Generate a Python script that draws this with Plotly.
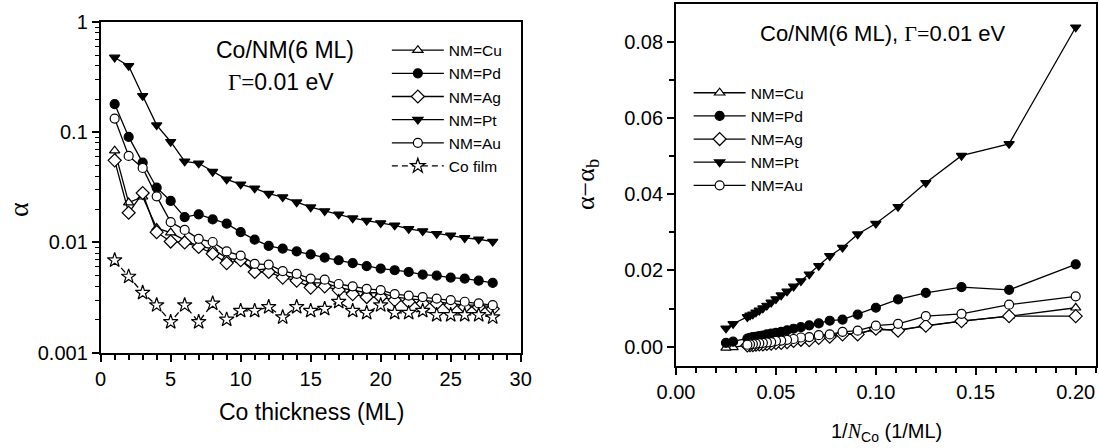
import plotly.graph_objects as go

# ---------------- data: left panel (alpha vs Co thickness) ----------------
thick = list(range(1, 29))
cu_l = [0.068, 0.023, 0.026, 0.0135, 0.0123, 0.0105, 0.0092, 0.0088, 0.0072, 0.0069,
        0.0056, 0.0058, 0.0050, 0.0048, 0.0043, 0.0043, 0.0039, 0.0037, 0.0035, 0.0035,
        0.0032, 0.0031, 0.0030, 0.0029, 0.0028, 0.0027, 0.0027, 0.0026]
pd_l = [0.180, 0.0907, 0.053, 0.0314, 0.0238, 0.0170, 0.0180, 0.0162, 0.0148, 0.0124,
        0.0106, 0.0093, 0.0088, 0.0083, 0.0078, 0.0073, 0.0069, 0.0065, 0.0061, 0.0058,
        0.0056, 0.0054, 0.0051, 0.0050, 0.0048, 0.0047, 0.0045, 0.0043]
ag_l = [0.0556, 0.0186, 0.0281, 0.0124, 0.0102, 0.0100, 0.0091, 0.0079, 0.0065, 0.0069,
        0.0054, 0.0054, 0.0048, 0.0045, 0.0039, 0.0040, 0.0037, 0.0034, 0.0032, 0.0032,
        0.0030, 0.0029, 0.0028, 0.0028, 0.0027, 0.0026, 0.0026, 0.0025]
pt_l = [0.477, 0.400, 0.214, 0.116, 0.082, 0.0545, 0.0523, 0.0439, 0.0374, 0.0337,
        0.0310, 0.0277, 0.0258, 0.0232, 0.0209, 0.0193, 0.0180, 0.0166, 0.0158, 0.0150,
        0.0143, 0.0133, 0.0127, 0.0120, 0.0116, 0.0110, 0.0107, 0.0102]
au_l = [0.133, 0.061, 0.0474, 0.0262, 0.0153, 0.0130, 0.0108, 0.0101, 0.0083, 0.0076,
        0.0064, 0.0063, 0.0055, 0.0052, 0.0047, 0.0046, 0.0042, 0.0040, 0.0038, 0.0037,
        0.0034, 0.0033, 0.0032, 0.0031, 0.0030, 0.0029, 0.0028, 0.0027]
co_l = [0.0069, 0.0049, 0.0035, 0.0027, 0.0019, 0.0027, 0.0019, 0.0028, 0.0020, 0.0024,
        0.0024, 0.0026, 0.0021, 0.0026, 0.0024, 0.0025, 0.0029, 0.0024, 0.0023, 0.0027,
        0.0023, 0.0023, 0.0024, 0.0022, 0.0022, 0.0022, 0.0022, 0.0021]

# ---------------- data: right panel (alpha - alpha_b vs 1/N_Co) ----------------
n_full = [5, 6, 7, 8, 9, 10, 11, 12, 13, 14, 15, 16, 17, 18, 19, 20,
          21, 22, 23, 24, 25, 26, 27, 28, 35, 40]
n_short = n_full[:24]
cu_r = [0.0102, 0.0080, 0.0067, 0.0055, 0.0044, 0.0045, 0.0035, 0.0034, 0.0028, 0.0026,
        0.0021, 0.0021, 0.0017, 0.0015, 0.0013, 0.0013, 0.0010, 0.0009, 0.0008, 0.0007,
        0.0006, 0.0005, 0.0005, 0.0004, -0.0002, -0.0003]
pd_r = [0.0216, 0.0149, 0.0156, 0.0141, 0.0124, 0.0102, 0.0084, 0.0071, 0.0068, 0.0061,
        0.0056, 0.0051, 0.0047, 0.0043, 0.0039, 0.0036, 0.0034, 0.0032, 0.0029, 0.0028,
        0.0026, 0.0025, 0.0023, 0.0021, 0.0013, 0.0010]
ag_r = [0.0080, 0.0080, 0.0067, 0.0055, 0.0042, 0.0047, 0.0032, 0.0032, 0.0026, 0.0023,
        0.0017, 0.0018, 0.0015, 0.0012, 0.0010, 0.0010, 0.0008, 0.0007, 0.0006, 0.0006,
        0.0005, 0.0004, 0.0004, 0.0003]
pt_r = [0.0838, 0.0532, 0.0501, 0.0430, 0.0367, 0.0323, 0.0295, 0.0260, 0.0238, 0.0212,
        0.0190, 0.0172, 0.0158, 0.0145, 0.0135, 0.0125, 0.0116, 0.0108, 0.0101, 0.0095,
        0.0090, 0.0085, 0.0082, 0.0078, 0.0060, 0.0048]
au_r = [0.0132, 0.0110, 0.0086, 0.0080, 0.0060, 0.0055, 0.0042, 0.0039, 0.0032, 0.0030,
        0.0025, 0.0024, 0.0020, 0.0018, 0.0016, 0.0015, 0.0012, 0.0011, 0.0010, 0.0009,
        0.0008, 0.0007, 0.0006, 0.0005]

log_tickvals = [0.001, 0.01, 0.1, 1]
log_ticktext = ["0.001", "0.01", "0.1", "1"]

FONT = "Liberation Sans, Arial, sans-serif"
SERIF = "Liberation Serif"

styles = {
    "NM=Cu": dict(symbol="triangle-up", color="white", size=9),
    "NM=Pd": dict(symbol="circle", color="black", size=9),
    "NM=Ag": dict(symbol="diamond", color="white", size=10),
    "NM=Pt": dict(symbol="triangle-down", color="black", size=9),
    "NM=Au": dict(symbol="circle", color="white", size=9),
    "Co film": dict(symbol="star", color="white", size=11),
}

fig = go.Figure()

left_series = [("NM=Cu", cu_l), ("NM=Pd", pd_l), ("NM=Ag", ag_l),
               ("NM=Pt", pt_l), ("NM=Au", au_l), ("Co film", co_l)]
for name, vals in left_series:
    st = styles[name]
    fig.add_trace(go.Scatter(
        x=thick, y=vals, name=name, mode="lines+markers",
        line=dict(color="black", width=1.3, dash="6px,4px" if name == "Co film" else "solid"),
        marker=dict(symbol=st["symbol"], size=st["size"], color=st["color"],
                    line=dict(color="black", width=1.2)),
        xaxis="x", yaxis="y", legend="legend"))

right_series = [("NM=Cu", n_full, cu_r), ("NM=Pd", n_full, pd_r), ("NM=Ag", n_short, ag_r),
                ("NM=Pt", n_full, pt_r), ("NM=Au", n_short, au_r)]
for name, ns, vals in right_series:
    st = styles[name]
    fig.add_trace(go.Scatter(
        x=[1.0 / n for n in ns], y=vals, name=name, mode="lines+markers",
        line=dict(color="black", width=1.3),
        marker=dict(symbol=st["symbol"], size=st["size"], color=st["color"],
                    line=dict(color="black", width=1.2)),
        xaxis="x2", yaxis="y2", legend="legend2"))

axis_common = dict(showgrid=False, zeroline=False, showline=True, linecolor="black",
                   linewidth=1.8, mirror=True, ticks="outside", tickcolor="black",
                   tickwidth=1.5, ticklen=7, automargin=False,
                   tickfont=dict(family=FONT, size=20, color="black"))

fig.update_layout(
    width=1099, height=448, autosize=False,
    margin=dict(l=0, r=0, t=0, b=0, autoexpand=False),
    paper_bgcolor="white", plot_bgcolor="white",
    font=dict(family=FONT, color="black"),
    xaxis=dict(domain=[0.0916, 0.4738], range=[0, 30], dtick=5, tick0=0,
               minor=dict(dtick=1, ticks="outside", ticklen=5, tickcolor="black", tickwidth=1.5),
               anchor="y", **axis_common),
    yaxis=dict(domain=[0.2127, 0.9509], type="log", range=[-3, 0],
               tickvals=log_tickvals, ticktext=log_ticktext,
               minor=dict(dtick="D1", ticks="outside", ticklen=4, tickcolor="black", tickwidth=1.2),
               anchor="x", **axis_common),
    xaxis2=dict(domain=[0.6151, 0.997], range=[0, 0.21], dtick=0.05, tick0=0,
                tickformat=".2f",
                minor=dict(dtick=0.01, ticks="outside", ticklen=5, tickcolor="black", tickwidth=1.5),
                anchor="y2", **axis_common),
    yaxis2=dict(domain=[0.1837, 0.9911], range=[-0.005, 0.0899], dtick=0.02, tick0=0,
                tickformat=".2f",
                minor=dict(dtick=0.01, ticks="outside", ticklen=5, tickcolor="black", tickwidth=1.5),
                anchor="x2", **axis_common),
    legend=dict(x=0.352, y=0.925, xanchor="left", yanchor="top",
                bgcolor="rgba(0,0,0,0)", borderwidth=0,
                font=dict(family=FONT, size=15.5, color="black"),
                itemwidth=52, tracegroupgap=0),
    legend2=dict(x=0.6266, y=0.830, xanchor="left", yanchor="top",
                 bgcolor="rgba(0,0,0,0)", borderwidth=0,
                 font=dict(family=FONT, size=15.5, color="black"),
                 itemwidth=52, tracegroupgap=0),
)

ann_font = dict(family=FONT, size=23, color="black")
fig.add_annotation(x=285 / 1099, y=1 - 50 / 448, xref="paper", yref="paper",
                   text="Co/NM(6 ML)", showarrow=False, font=ann_font,
                   xanchor="center", yanchor="middle")
fig.add_annotation(x=281 / 1099, y=1 - 82 / 448, xref="paper", yref="paper",
                   text=f"<span style=\"font-family:{SERIF}\">Γ=</span>0.01 eV",
                   showarrow=False, font=ann_font, xanchor="center", yanchor="middle")
fig.add_annotation(x=883 / 1099, y=1 - 34 / 448, xref="paper", yref="paper",
                   text=f"Co/NM(6 ML), <span style=\"font-family:{SERIF}\">Γ=</span>0.01 eV",
                   showarrow=False, font=dict(family=FONT, size=22, color="black"),
                   xanchor="center", yanchor="middle")

# axis titles
fig.add_annotation(x=311 / 1099, y=1 - 412 / 448, xref="paper", yref="paper",
                   text="Co thickness (ML)", showarrow=False,
                   font=dict(family=FONT, size=23, color="black"),
                   xanchor="center", yanchor="middle")
fig.add_annotation(x=18 / 1099, y=1 - 210 / 448, xref="paper", yref="paper",
                   text="α", showarrow=False, textangle=-90,
                   font=dict(family=SERIF, size=28, color="black"),
                   xanchor="center", yanchor="middle")
fig.add_annotation(x=886 / 1099, y=1 - 432 / 448, xref="paper", yref="paper",
                   text=f"1/<span style=\"font-family:{SERIF};font-style:italic\">N</span><sub>Co</sub> (1/ML)",
                   showarrow=False, font=dict(family=FONT, size=20, color="black"),
                   xanchor="center", yanchor="middle")
fig.add_annotation(x=587 / 1099, y=1 - 185 / 448, xref="paper", yref="paper",
                   text="α−α<sub>b</sub>", showarrow=False, textangle=-90,
                   font=dict(family=SERIF, size=26, color="black"),
                   xanchor="center", yanchor="middle")

fig.write_html("out.html")
